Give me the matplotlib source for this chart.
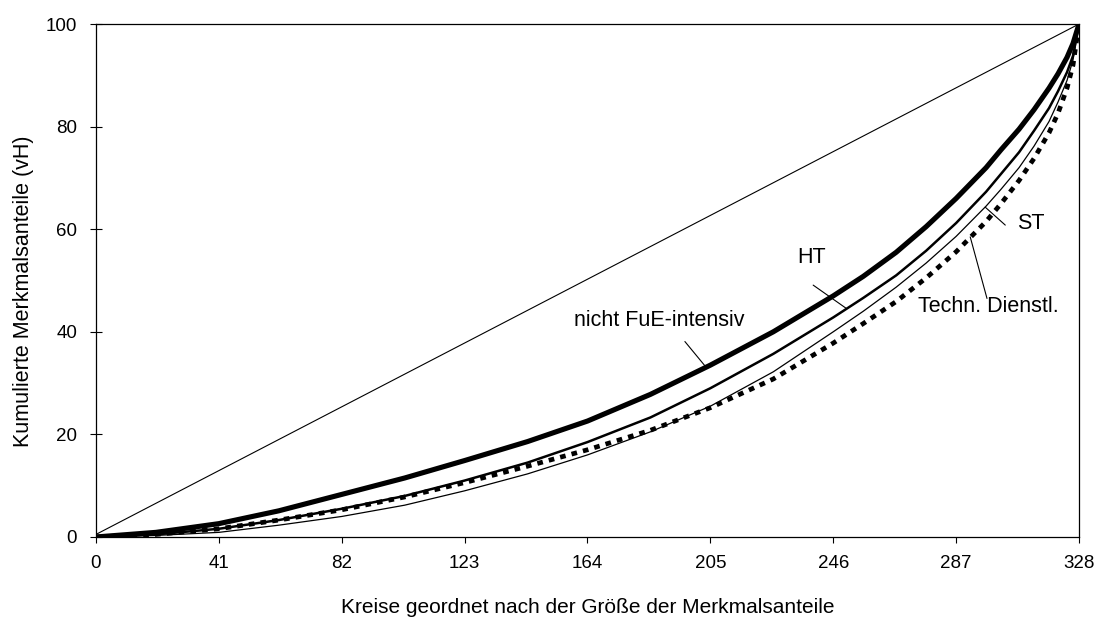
import matplotlib
matplotlib.use("Agg")
import matplotlib.pyplot as plt

plt.rcParams['font.family'] = ['Liberation Sans', 'DejaVu Sans']

# Kreise (x) und kumulierte Anteile in vH
kreise = [0, 20, 41, 61, 82, 103, 123, 144, 164, 185, 205, 226, 246, 256, 267, 277, 287,
          297, 302, 308, 313, 318, 321, 324, 326, 328]
nicht_fue = [0, 0.9, 2.6, 5.1, 8.3, 11.5, 14.9, 18.6, 22.6, 27.8, 33.5, 40.0, 47.0, 50.8, 55.5, 60.5, 66.0,
             72.0, 75.5, 79.5, 83.3, 87.5, 90.3, 93.5, 96.2, 100]
ht = [0, 0.5, 1.6, 3.3, 5.5, 8.0, 11.0, 14.5, 18.5, 23.3, 29.0, 35.7, 42.8, 46.6, 51.0, 55.8, 61.2,
      67.3, 70.8, 75.0, 79.2, 83.6, 86.9, 90.6, 93.8, 100]
st = [0, 0.3, 0.9, 2.3, 4.0, 6.2, 9.0, 12.3, 16.0, 20.5, 25.5, 32.2, 40.0, 44.0, 48.7, 53.4, 58.6,
      64.5, 67.8, 72.0, 76.2, 81.0, 84.8, 89.0, 93.0, 100]
techn = [0, 0.5, 1.6, 3.3, 5.3, 7.8, 10.6, 13.8, 17.0, 20.8, 25.2, 30.8, 37.8, 41.6, 45.9, 50.5, 55.6,
         61.5, 65.0, 69.5, 73.8, 78.8, 82.6, 87.5, 92.0, 100]

xticks = [0, 41, 82, 123, 164, 205, 246, 287, 328]
yticks = [0, 20, 40, 60, 80, 100]

fig = plt.figure(figsize=(11.11, 6.19), dpi=100)
ax = fig.add_axes([0.0864, 0.1325, 0.8848, 0.8287])

# Gleichverteilungsgerade
ax.plot([0, 328], [0.5, 100], color='black', lw=0.8)
ax.plot(kreise, st, color='black', lw=0.9, solid_joinstyle='round')
ax.plot(kreise, ht, color='black', lw=1.8, solid_joinstyle='round')
ax.plot(kreise, techn, color='black', lw=3.4, linestyle=(0, (1.2, 1.3)))
ax.plot(kreise, nicht_fue, color='black', lw=3.7, solid_capstyle='round', solid_joinstyle='round')

ax.set_xlim(0, 328)
ax.set_ylim(0, 100)
ax.set_xticks(xticks)
ax.set_yticks(yticks)
ax.tick_params(axis='x', direction='out', length=4, width=0.8, pad=9, labelsize=13.5)
ax.tick_params(axis='y', direction='inout', length=9, width=0.8, pad=9, labelsize=13.5)
for s in ax.spines.values():
    s.set_linewidth(0.9)

ax.set_xlabel('Kreise geordnet nach der Größe der Merkmalsanteile', fontsize=15)
ax.xaxis.set_label_coords(0.5, -0.118)
ax.set_ylabel('Kumulierte Merkmalsanteile (vH)', fontsize=15.5)
ax.yaxis.set_label_coords(-0.063, 0.48)

lp = dict(arrowstyle='-', color='black', lw=0.8, shrinkA=0, shrinkB=0)
ax.annotate('', xy=(203.7, 33.0), xytext=(196.5, 38.1), arrowprops=lp)
ax.text(187.8, 42.2, 'nicht FuE-intensiv', fontsize=15.5, ha='center', va='center')
ax.annotate('', xy=(250.5, 44.5), xytext=(239.3, 49.1), arrowprops=lp)
ax.text(238.8, 54.5, 'HT', fontsize=15.5, ha='center', va='center')
ax.annotate('', xy=(296.7, 64.3), xytext=(303.4, 60.8), arrowprops=lp)
ax.text(312.0, 61.1, 'ST', fontsize=15.5, ha='center', va='center')
ax.annotate('', xy=(291.7, 58.5), xytext=(297.3, 46.5), arrowprops=lp)
ax.text(297.8, 44.9, 'Techn. Dienstl.', fontsize=15.5, ha='center', va='center')

fig.savefig('out.png', dpi=100)
